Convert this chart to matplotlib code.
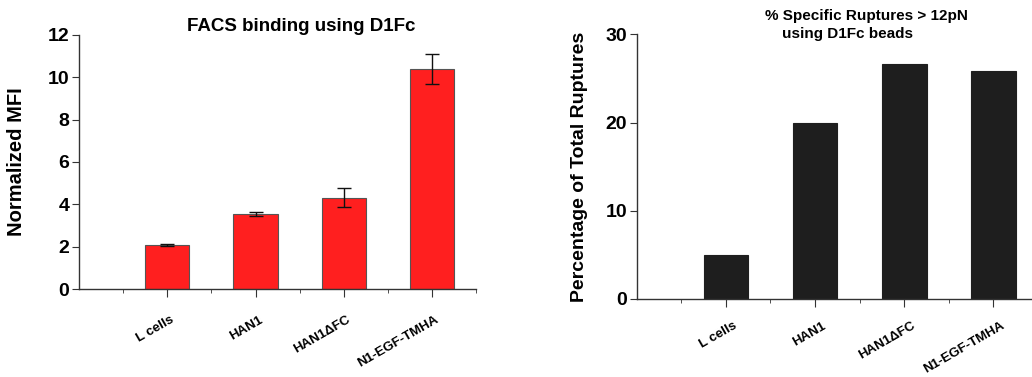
import matplotlib

matplotlib.use("Agg")
import matplotlib.pyplot as plt
import matplotlib.transforms as mtransforms
from matplotlib.ticker import FixedLocator

plt.rcParams["font.family"] = ["Liberation Sans", "DejaVu Sans"]
plt.rcParams["font.weight"] = "bold"

categories = ["L cells", "HAN1", "HAN1\u0394FC", "N1-EGF-TMHA"]

# left panel: FACS binding
mfi = [2.06, 3.56, 4.31, 10.39]
mfi_err = [0.05, 0.09, 0.45, 0.72]

# right panel: specific ruptures
ruptures = [5.0, 19.9, 26.6, 25.8]

positions = [1, 2, 3, 4]


def style_axes(ax, label_shift, label_pad):
    for side in ("top", "right"):
        ax.spines[side].set_visible(False)
    for side in ("left", "bottom"):
        ax.spines[side].set_color("#333333")
        ax.spines[side].set_linewidth(1.0)
    ax.set_xlim(0, 4.5)
    ax.set_xticks(positions)
    ax.xaxis.set_minor_locator(FixedLocator([0.5, 1.5, 2.5, 3.5, 4.5]))
    ax.tick_params(axis="x", which="major", length=6, color="#333333", pad=label_pad)
    ax.tick_params(axis="x", which="minor", length=3, color="#333333")
    ax.tick_params(axis="y", length=5, color="#333333", labelsize=14, pad=2)
    for lab in ax.get_yticklabels():
        lab.set_fontweight("bold")
    ax.set_xticklabels(categories, fontsize=9.5, fontweight="bold")
    # nudge rotated labels to the right, as in the original figure
    offset = mtransforms.ScaledTranslation(label_shift / 100, 0, ax.figure.dpi_scale_trans)
    for lab in ax.get_xticklabels():
        lab.set_rotation(30)
        lab.set_ha("right")
        lab.set_rotation_mode("anchor")
        lab.set_transform(lab.get_transform() + offset)


fig = plt.figure(figsize=(10.32, 3.77), dpi=100)

ax1 = fig.add_axes([0.0766, 0.2334, 0.3847, 0.6738])
ax1.bar(positions, mfi, width=0.5, color="#ff1f1f", edgecolor="#555555", linewidth=0.8)
ax1.errorbar(positions, mfi, yerr=mfi_err, fmt="none", ecolor="#111111",
             elinewidth=1.0, capsize=5, capthick=1.0)
ax1.set_ylim(0, 12)
ax1.set_yticks([0, 2, 4, 6, 8, 10, 12])
style_axes(ax1, 3, 12)
ax1.set_ylabel("Normalized MFI", fontsize=14.5, fontweight="bold")
ax1.yaxis.set_label_coords(-0.1335, 0.5)
ax1.set_title("FACS binding using D1Fc", fontsize=13.5, fontweight="bold", pad=2, x=0.56)

ax2 = fig.add_axes([0.617, 0.2069, 0.3888, 0.702])
ax2.bar(positions, ruptures, width=0.5, color="#1e1e1e", edgecolor="#1e1e1e", linewidth=0.8)
ax2.set_ylim(0, 30)
ax2.set_yticks([0, 10, 20, 30])
style_axes(ax2, 7, 9)
ax2.set_ylabel("Percentage of Total Ruptures", fontsize=14, fontweight="bold")
ax2.yaxis.set_label_coords(-0.121, 0.5)
fig.text(866 / 1032, 1 - 16 / 377, "% Specific Ruptures > 12pN", ha="center", va="center",
         fontsize=11, fontweight="bold")
fig.text(847 / 1032, 1 - 34 / 377, "using D1Fc beads", ha="center", va="center",
         fontsize=11, fontweight="bold")

fig.savefig("out.png", dpi=100)
